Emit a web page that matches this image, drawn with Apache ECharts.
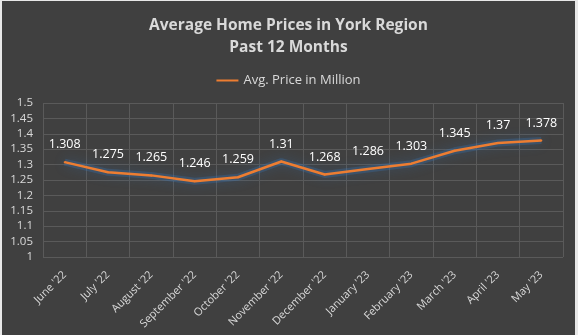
<!DOCTYPE html>
<html>
<head>
<meta charset="utf-8">
<script src="https://cdn.jsdelivr.net/npm/echarts@6/dist/echarts.min.js"></script>
<style>
  html, body { margin: 0; padding: 0; background: #e8e8e8; width: 578px; height: 335px; overflow: hidden; }
  #chart { position: absolute; left: 2px; top: 1px; width: 573px; height: 334px; }
</style>
</head>
<body>
<div id="chart"></div>
<script>
// Monthly average home prices (millions), June 2022 – May 2023
const months = ["June '22", "July '22", "August '22", "September '22", "October '22", "November '22",
                "December '22", "January '23", "February '23", "March '23", "April '23", "May '23"];
const avgPrice = [1.308, 1.275, 1.265, 1.246, 1.259, 1.31, 1.268, 1.286, 1.303, 1.345, 1.37, 1.378];
const yMin = 1, yMax = 1.5, yStep = 0.05;

const chart = echarts.init(document.getElementById('chart'), null, { renderer: 'canvas' });
const textColor = '#d9d9d9';
const orange = '#ED7D31';
const font = '"Open Sans", "Liberation Sans", sans-serif';
const seriesName = 'Avg. Price in Million';

chart.setOption({
  backgroundColor: '#404040',
  animation: false,
  title: {
    text: 'Average Home Prices in York Region\nPast 12 Months',
    left: 'center',
    top: 9,
    textStyle: { color: textColor, fontFamily: font, fontSize: 15.5, fontWeight: 'bold', lineHeight: 22 }
  },
  legend: {
    top: 68,
    left: 'center',
    itemWidth: 22,
    itemHeight: 10,
    itemGap: 4,
    textStyle: { color: textColor, fontFamily: font, fontSize: 13 },
    data: [{ name: seriesName, icon: 'path://M0,4 L22,4 L22,6 L0,6 Z', itemStyle: { color: orange, opacity: 1 } }]
  },
  grid: { left: 41, right: 12, top: 102, bottom: 78 },
  xAxis: {
    type: 'category',
    data: months,
    boundaryGap: true,
    axisLine: { show: false },
    axisTick: { show: false },
    splitLine: { show: true, lineStyle: { color: '#5a5a5a', width: 1 } },
    axisLabel: { color: textColor, fontFamily: font, fontSize: 11, rotate: 45, margin: 16, interval: 0 }
  },
  yAxis: {
    type: 'value',
    min: yMin,
    max: yMax,
    interval: yStep,
    axisLine: { show: false },
    axisTick: { show: false },
    splitLine: { show: true, lineStyle: { color: '#5a5a5a', width: 1 } },
    axisLabel: { color: textColor, fontFamily: font, fontSize: 11.5, margin: 10,
                 formatter: v => String(parseFloat(v.toFixed(2))) }
  },
  series: [
    {
      // soft blue glow under the price line
      name: 'glow',
      type: 'line',
      data: avgPrice,
      symbol: 'none',
      silent: true,
      lineStyle: {
        color: 'rgba(55, 115, 180, 0.3)',
        width: 7,
        shadowColor: 'rgba(55, 115, 180, 0.8)',
        shadowBlur: 12
      },
      z: 1
    },
    {
      name: seriesName,
      type: 'line',
      data: avgPrice,
      symbol: 'circle',
      symbolSize: 2,
      showSymbol: true,
      itemStyle: { color: orange },
      color: orange,
      lineStyle: { color: orange, width: 2.5 },
      label: {
        show: true,
        position: 'top',
        distance: 10,
        color: '#ffffff',
        fontFamily: font,
        fontSize: 12.5,
        formatter: p => String(p.value)
      },
      z: 2
    }
  ]
});
</script>
</body>
</html>
